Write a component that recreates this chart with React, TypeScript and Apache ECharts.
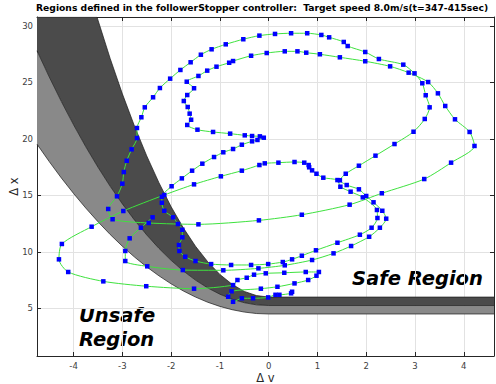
import React, { useEffect, useRef } from "react";
import * as echarts from "echarts";

const TITLE =
  "Regions defined in the followerStopper controller:  Target speed 8.0m/s(t=347-415sec)";
const X_NAME = "Δ v";
const Y_NAME = "Δ x";
const SAFE_LABEL = "Safe Region";
const UNSAFE_LABEL = ["Unsafe", "Region"];

const X_RANGE = [-4.75, 4.62];
const Y_RANGE = [0.78, 30.8];

// boundary curves of the regions (dv, dx)
const bandDv = [
  -4.75, -4.5, -4.25, -4, -3.75, -3.5, -3.25, -3, -2.75, -2.5, -2.25, -2, -1.75,
  -1.5, -1.25, -1, -0.75, -0.5, -0.25, 0, 4.62,
];
const lowerDx = [
  19.54, 18.0, 16.54, 15.17, 13.88, 12.67, 11.54, 10.5, 9.54, 8.67, 7.88, 7.17,
  6.54, 6.0, 5.54, 5.17, 4.88, 4.67, 4.54, 4.5, 4.5,
];
const middleDx = [
  27.81, 25.5, 23.31, 21.25, 19.31, 17.5, 15.81, 14.25, 12.81, 11.5, 10.31, 9.25,
  8.31, 7.5, 6.81, 6.25, 5.81, 5.5, 5.31, 5.25, 5.25,
];
const upperDv = [
  -4.75, -3.52, -3.25, -3, -2.75, -2.5, -2.25, -2, -1.75, -1.5, -1.25, -1, -0.75,
  -0.5, -0.25, 0, 4.62,
];
const upperDx = [
  30.8, 30.8, 27.13, 24.0, 21.13, 18.5, 16.13, 14.0, 12.13, 10.5, 9.13, 8.0, 7.13,
  6.5, 6.13, 6.0, 6.0,
];

// trajectory samples [dv, dx]
const trajectory: number[][] = [
  [-2.38, 13.06], [-2.62, 12.14], [-2.85, 11.2], [-2.94, 10.08], [-2.94, 9.19],
  [-2.49, 8.72], [-1.76, 8.39], [-0.93, 8.37], [-0.21, 8.54], [0.33, 8.81],
  [0.89, 9.28], [1.33, 9.87], [1.69, 10.52], [2.06, 11.34], [2.28, 12.14],
  [2.41, 12.94], [2.33, 13.64], [2.15, 14.39], [2.0, 14.95], [1.85, 15.54],
  [1.6, 15.92], [1.46, 16.34], [1.58, 16.92], [1.85, 17.63], [2.19, 18.52],
  [2.58, 19.55], [2.97, 20.64], [3.2, 21.77], [3.3, 22.8], [3.22, 23.87],
  [3.15, 24.93], [2.99, 25.81], [2.76, 26.58], [2.26, 27.08], [1.98, 27.7],
  [1.62, 28.23], [1.54, 28.59], [1.24, 29.0], [1.08, 29.21], [0.79, 29.36],
  [0.46, 29.36], [0.13, 29.3], [-0.19, 29.15], [-0.52, 28.83], [-0.88, 28.38],
  [-1.17, 27.94], [-1.39, 27.46], [-1.6, 26.79], [-1.81, 26.11], [-2.02, 25.34],
  [-2.23, 24.51], [-2.37, 23.69], [-2.54, 22.8], [-2.61, 21.92], [-2.7, 20.97],
  [-2.7, 20.08], [-2.81, 19.08], [-2.91, 18.07], [-2.97, 17.07], [-3.0, 16.04],
  [-3.11, 14.92], [-3.29, 13.8], [-3.2, 12.89], [-2.46, 12.56], [-1.44, 12.44],
  [-0.2, 12.79], [0.68, 13.29], [1.66, 14.18], [2.32, 15.19], [3.19, 16.45],
  [3.74, 17.9], [4.22, 19.38], [4.12, 20.62], [3.82, 21.74], [3.62, 22.92],
  [3.47, 24.04], [3.27, 25.04], [2.87, 25.87], [2.49, 26.43], [1.98, 26.88],
  [1.46, 27.23], [1.05, 27.5], [0.77, 27.64], [0.59, 27.76], [0.33, 27.76],
  [-0.04, 27.61], [-0.36, 27.37], [-0.73, 26.9], [-0.81, 26.75], [-1.07, 26.4],
  [-1.26, 26.05], [-1.44, 25.58], [-1.68, 25.07], [-1.53, 24.49], [-1.67, 23.89],
  [-1.74, 23.36], [-1.66, 22.83], [-1.62, 22.24], [-1.59, 21.7], [-1.67, 21.24],
  [-1.46, 20.82], [-1.14, 20.62], [-0.79, 20.47], [-0.49, 20.32], [-0.34, 20.26],
  [-0.18, 20.23], [-0.1, 20.11], [-0.23, 19.91], [-0.34, 19.79], [-0.55, 19.49],
  [-0.73, 19.11], [-0.93, 18.82], [-1.12, 18.4], [-1.36, 17.81], [-1.57, 17.19],
  [-1.78, 16.51], [-1.99, 15.81], [-2.19, 14.88], [-2.19, 14.35], [-2.14, 13.64],
  [-1.96, 13.06], [-1.86, 12.47], [-1.77, 11.96], [-1.77, 11.29], [-1.84, 10.61],
  [-1.83, 10.08], [-1.71, 9.57], [-1.5, 9.19], [-1.18, 8.92], [-0.77, 8.84],
  [-0.36, 8.84], [-0.01, 8.92], [0.29, 9.1], [0.48, 9.34], [0.68, 9.66],
  [0.97, 10.14], [1.41, 10.81], [1.87, 11.52], [2.11, 12.14], [2.23, 13.0],
  [2.22, 13.71], [1.93, 14.83], [1.68, 15.33], [1.47, 15.77], [1.41, 16.36],
  [1.12, 16.57], [0.98, 16.92], [0.89, 17.22], [0.83, 17.49], [0.82, 17.69],
  [0.73, 17.9], [0.53, 17.96], [0.2, 17.9], [-0.08, 17.84], [-0.19, 17.69],
  [-0.55, 17.19], [-0.98, 16.69], [-1.53, 15.98], [-2.14, 15.04], [-2.98, 13.62],
  [-3.63, 12.23], [-4.24, 10.7], [-4.3, 9.34], [-4.11, 8.22], [-3.39, 7.39],
  [-2.51, 6.96], [-1.53, 6.74], [-0.73, 7.06], [-0.64, 7.51], [-0.45, 7.71],
  [-0.3, 7.98], [-0.06, 8.1], [0.32, 8.15], [0.76, 8.22], [1.03, 8.22],
  [0.98, 7.89], [0.81, 7.51], [0.53, 7.21], [0.18, 6.91], [-0.16, 6.74],
  [-0.76, 6.51], [-0.83, 6.03], [-0.73, 5.58], [-0.55, 5.89], [-0.32, 5.89],
  [-0.01, 5.97], [0.14, 6.2], [0.22, 6.2], [0.46, 6.33], [0.48, 6.47],
];

const FONT = "DejaVu Sans";

function pairs(xs: number[], ys: number[]) {
  return xs.map((x, i) => [x, ys[i]]);
}

function bandSeries(lower: number[][], upper: number[][], color: string) {
  return {
    type: "custom",
    coordinateSystem: "cartesian2d",
    silent: true,
    z: 1,
    data: [[X_RANGE[0], Y_RANGE[0]]],
    renderItem: (_params: any, api: any) => {
      const pts = [
        ...lower.map((p) => api.coord(p)),
        ...upper
          .slice()
          .reverse()
          .map((p) => api.coord(p)),
      ];
      return {
        type: "polygon",
        shape: { points: pts },
        style: { fill: color, stroke: null },
      };
    },
  };
}

function edgeSeries(data: number[][]) {
  return {
    type: "line",
    data,
    showSymbol: false,
    symbol: "none",
    silent: true,
    z: 2,
    lineStyle: { color: "#1a1a1a", width: 0.7 },
  };
}

export default function App() {
  const ref = useRef<HTMLDivElement>(null);

  useEffect(() => {
    if (!ref.current) return;
    const chart = echarts.init(ref.current, undefined, { renderer: "svg" });
    const lower = pairs(bandDv, lowerDx);
    const middle = pairs(bandDv, middleDx);
    const upper = pairs(upperDv, upperDx);

    const axisColor = "#262626";
    const intLabel = (v: number) =>
      Math.abs(v - Math.round(v)) < 1e-9 ? String(Math.round(v)) : "";
    const axisLine = { show: true, onZero: false, lineStyle: { color: axisColor, width: 1 } };
    const axisTick = { show: true, inside: true, length: 4, lineStyle: { color: axisColor } };
    const labelStyle = {
      formatter: intLabel,
      fontFamily: FONT,
      fontSize: 8.5,
      color: "#404040",
      margin: 5,
    };
    const nameStyle = { fontFamily: FONT, fontSize: 11.5, color: "#262626" };
    const gridLine = { show: true, lineStyle: { color: "#e2e2e2", width: 1 } };

    chart.setOption({
      animation: false,
      backgroundColor: "#ffffff",
      title: {
        text: TITLE,
        left: 36,
        top: 3,
        padding: 0,
        textStyle: {
          fontFamily: FONT,
          fontSize: 9.2,
          fontWeight: "bold",
          color: "#000000",
        },
      },
      grid: {
        left: 37,
        right: 2,
        top: 17,
        bottom: 28,
        containLabel: false,
        outerBoundsMode: "none",
      },
      xAxis: [
        {
          type: "value",
          min: X_RANGE[0],
          max: X_RANGE[1],
          minInterval: 1,
          maxInterval: 1,
          position: "bottom",
          name: X_NAME,
          nameLocation: "middle",
          nameGap: 16,
          nameMoveOverlap: false,
          nameTextStyle: nameStyle,
          axisLine,
          axisTick,
          axisLabel: labelStyle,
          splitLine: gridLine,
        },
        {
          type: "value",
          min: X_RANGE[0],
          max: X_RANGE[1],
          minInterval: 1,
          maxInterval: 1,
          position: "top",
          axisLine,
          axisTick,
          axisLabel: { show: false },
          splitLine: { show: false },
        },
      ],
      yAxis: [
        {
          type: "value",
          min: Y_RANGE[0],
          max: Y_RANGE[1],
          minInterval: 5,
          maxInterval: 5,
          position: "left",
          name: Y_NAME,
          nameLocation: "middle",
          nameGap: 17,
          nameMoveOverlap: false,
          nameTextStyle: nameStyle,
          axisLine,
          axisTick,
          axisLabel: { ...labelStyle, margin: 4 },
          splitLine: gridLine,
        },
        {
          type: "value",
          min: Y_RANGE[0],
          max: Y_RANGE[1],
          minInterval: 5,
          maxInterval: 5,
          position: "right",
          axisLine,
          axisTick,
          axisLabel: { show: false },
          splitLine: { show: false },
        },
      ],
      series: [
        bandSeries(lower, middle, "#898989"),
        bandSeries(middle, upper, "#4b4b4b"),
        edgeSeries(lower),
        edgeSeries(middle),
        edgeSeries(upper),
        {
          type: "line",
          data: trajectory,
          z: 3,
          smooth: 0.25,
          symbol: "rect",
          symbolSize: 4.5,
          showSymbol: true,
          itemStyle: { color: "#0000ff" },
          lineStyle: { color: "#3ee23e", width: 1 },
        },
      ],
      graphic: [
        {
          type: "text",
          x: 352,
          y: 278,
          silent: true,
          style: {
            text: SAFE_LABEL,
            fontFamily: FONT,
            fontSize: 19.5,
            fontWeight: "bold",
            fontStyle: "italic",
            fill: "#000000",
            textAlign: "left",
            textVerticalAlign: "middle",
          },
        },
        {
          type: "text",
          x: 79,
          y: 315.5,
          silent: true,
          style: {
            text: UNSAFE_LABEL[0],
            fontFamily: FONT,
            fontSize: 19.5,
            fontWeight: "bold",
            fontStyle: "italic",
            fill: "#000000",
            textAlign: "left",
            textVerticalAlign: "middle",
          },
        },
        {
          type: "text",
          x: 79,
          y: 339,
          silent: true,
          style: {
            text: UNSAFE_LABEL[1],
            fontFamily: FONT,
            fontSize: 19.5,
            fontWeight: "bold",
            fontStyle: "italic",
            fill: "#000000",
            textAlign: "left",
            textVerticalAlign: "middle",
          },
        },
      ],
    });
    return () => chart.dispose();
  }, []);

  return (
    <div
      ref={ref}
      style={{ position: "fixed", left: 0, top: 0, width: 496, height: 384 }}
    />
  );
}
